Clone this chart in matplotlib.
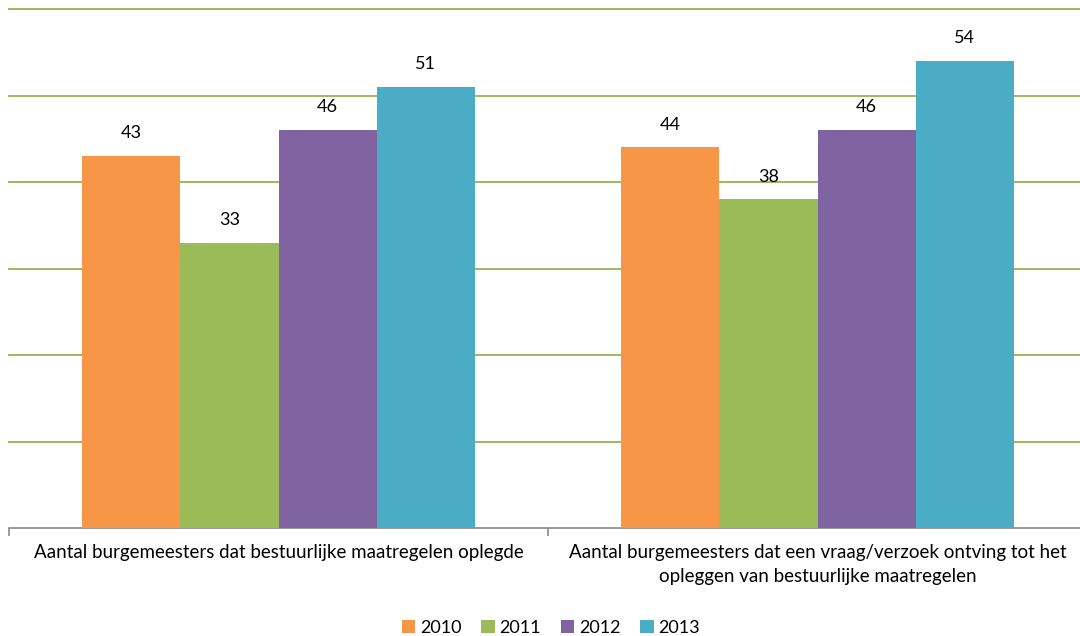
import matplotlib.pyplot as plt
import numpy as np

categories = ["Aantal burgemeesters dat bestuurlijke maatregelen oplegde",
              "Aantal burgemeesters dat een vraag/verzoek ontving tot het\nopleggen van bestuurlijke maatregelen"]
years = ["2010", "2011", "2012", "2013"]
values = {
    "2010": [43, 44],
    "2011": [33, 38],
    "2012": [46, 46],
    "2013": [51, 54],
}
colors = ["#F79646", "#9BBB59", "#8064A2", "#4BACC6"]

plt.rcParams['font.family'] = ['Lato', 'DejaVu Sans']

fig = plt.figure(figsize=(10.8, 6.36), dpi=100)
ax = fig.add_axes([9 / 1080, 108 / 636, 1078 / 1080, 519 / 636])

x = np.arange(len(categories))
width = 0.182
for i, year in enumerate(years):
    pos = x + (i - 1.5) * width
    bars = ax.bar(pos, values[year], width, color=colors[i], label=year, zorder=3)
    for b, v in zip(bars, values[year]):
        ax.text(b.get_x() + b.get_width() / 2, v + 1.7, str(v),
                ha='center', va='bottom', fontsize=13, color='black')

ax.set_xlim(-0.5, 1.5)
ax.set_ylim(0, 60)
ax.set_yticks(np.arange(10, 61, 10))
ax.yaxis.grid(True, color='#9BBB59', linewidth=1.4, zorder=0, clip_on=False)
for gl in ax.get_ygridlines():
    gl.set_clip_on(False)
ax.tick_params(axis='y', left=False, labelleft=False)
for side in ['top', 'right', 'left']:
    ax.spines[side].set_visible(False)
ax.spines['bottom'].set_color('#888888')
ax.spines['bottom'].set_linewidth(1.2)

ax.set_xticks([-0.5, 0.5, 1.5])
ax.set_xticklabels([])
ax.tick_params(axis='x', length=6, width=1.2, color='#888888', direction='out')
for xi, cat in zip(x, categories):
    ax.text(xi, -1.9, cat, ha='center', va='top', fontsize=13.5,
            color='black', linespacing=1.45)

fig.legend(loc='lower center', ncol=4, frameon=False, fontsize=13,
           bbox_to_anchor=(0.51, -0.025), handlelength=0.75, handleheight=0.75,
           handletextpad=0.25, columnspacing=1.1)

fig.savefig('out.png', dpi=100)
